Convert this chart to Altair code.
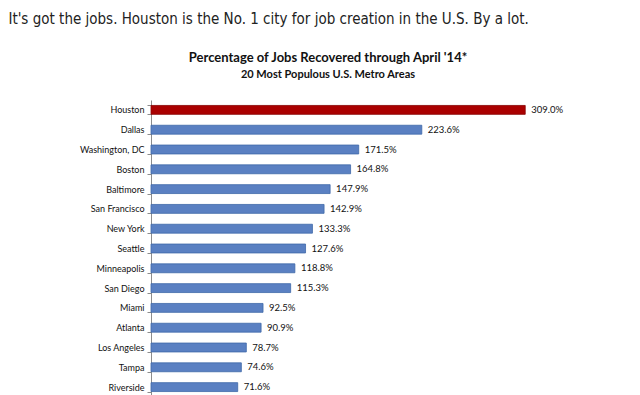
import altair as alt
import pandas as pd

cities = ["Houston", "Dallas", "Washington, DC", "Boston", "Baltimore", "San Francisco",
          "New York", "Seattle", "Minneapolis", "San Diego", "Miami", "Atlanta",
          "Los Angeles", "Tampa", "Riverside"]
values = [309.0, 223.6, 171.5, 164.8, 147.9, 142.9, 133.3, 127.6, 118.8, 115.3,
          92.5, 90.9, 78.7, 74.6, 71.6]
highlight = ["top"] + ["other"] * (len(cities) - 1)

df = pd.DataFrame({"city": cities, "value": values, "group": highlight})

headline = "It's got the jobs. Houston is the No. 1 city for job creation in the U.S. By a lot."

yenc = alt.Y("city:N", sort=cities, title=None,
             scale=alt.Scale(paddingInner=0.55, paddingOuter=0.275),
             axis=alt.Axis(tickBand="extent", tickSize=4, tickColor="#8c8c8c",
                           domainColor="#8c8c8c", labelFont="Lato", labelFontSize=9,
                           labelColor="#111111", labelPadding=3, grid=False))
xenc = alt.X("value:Q", scale=alt.Scale(domain=[0, 360], nice=False), axis=None)

base = alt.Chart(df).transform_calculate(
    label="format(datum.value, '.1f') + '%'"
)

bars = base.mark_bar(strokeWidth=0.8).encode(
    y=yenc, x=xenc,
    color=alt.Color("group:N", scale=alt.Scale(domain=["top", "other"], range=["#aa0000", "#5a80c2"]), legend=None),
    stroke=alt.Color("group:N", scale=alt.Scale(domain=["top", "other"], range=["#880000", "#3f68a8"]), legend=None),
)
text = base.mark_text(align="left", dx=6, font="Lato", fontSize=9.5, color="#111111").encode(
    y=alt.Y("city:N", sort=cities), x="value:Q", text="label:N"
)

layer = (bars + text).properties(
    width=436, height=297,
    title=alt.TitleParams("Percentage of Jobs Recovered through April '14*",
                          subtitle="20 Most Populous U.S. Metro Areas",
                          font="Lato", fontSize=13, fontWeight="bold", color="#111111",
                          subtitleFont="Lato", subtitleFontSize=11, subtitleFontWeight="bold",
                          subtitleColor="#111111", anchor="middle", frame="group", dx=-41,
                          offset=16, subtitlePadding=4)
)

chart = alt.vconcat(layer).properties(
    title=alt.TitleParams(headline, anchor="start", frame="bounds", font="DejaVu Sans Condensed",
                          fontSize=15, fontWeight="normal", color="#222222", dx=-71, offset=25),
    padding={"left": 0, "top": 4, "right": 5, "bottom": 0}
).configure_view(stroke=None)

chart.save("out.html", embed_options={"renderer": "svg", "actions": False})
